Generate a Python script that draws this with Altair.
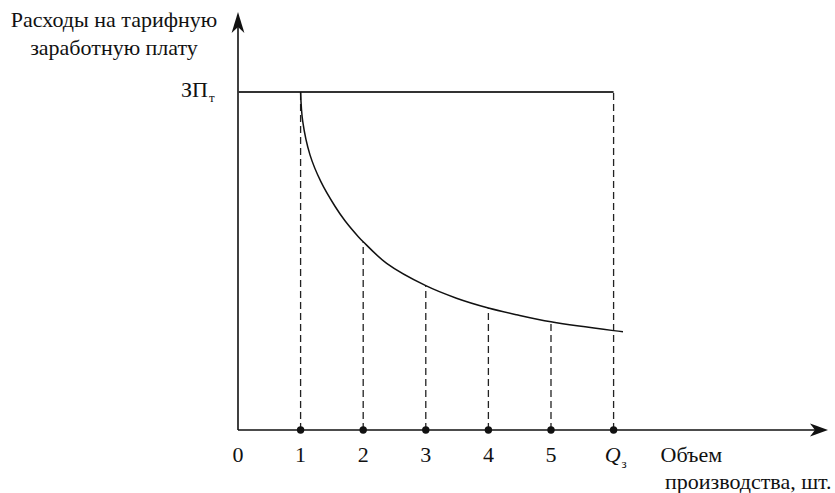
import altair as alt
import pandas as pd

# Volume of production (units) and the tariff wage cost per unit
curve_x = [1.0, 1.034, 1.150, 1.326, 1.549, 1.709, 1.922, 2.0,
           2.375, 3.0, 3.49, 4.0, 4.45, 5.0, 6.0, 6.15]
curve_y = [100.0, 91.3, 81.4, 73.4, 66.2, 61.9, 57.2, 55.7,
           49.3, 42.7, 39.0, 36.1, 34.1, 32.0, 29.4, 29.1]

# Points marked on the volume axis and the height of each dashed guide
mark_x = [1, 2, 3, 4, 5, 6]
guide_top = [100.0, 55.7, 42.7, 36.1, 32.0, 100.0]
tick_labels = ["1", "2", "3", "4", "5"]

wage_level = 100.0      # ЗПт
q_plan = 6              # Qз
x_end = 9.425           # arrow tip of the volume axis
y_end = 123.67          # arrow tip of the cost axis

# Arrowhead outlines (two halves each, so the back of the head is notched)
arrow_x_x = [9.1375, 9.2173, 9.425]
arrow_x_out = [1.92, 1.39, 0.0]
arrow_x_in = [1.92, 0.0, 0.0]
arrow_y_y = [117.46, 119.23, 123.67]
arrow_y_out = [0.102, 0.073, 0.0]
arrow_y_in = [0.102, 0.0, 0.0]

FONT = "Liberation Serif, Times New Roman, serif"
FS = 22
SUB = 13

xs = alt.Scale(domain=[-3.802, 9.537], nice=False, zero=False)
ys = alt.Scale(domain=[-18.64, 127.22], nice=False, zero=False)
X = lambda f: alt.X(f, type="quantitative", scale=xs, axis=None)
Y = lambda f: alt.Y(f, type="quantitative", scale=ys, axis=None)
X0 = alt.X(datum=0, scale=xs, axis=None)
Y0 = alt.Y(datum=0, scale=ys, axis=None)

axes_df = pd.DataFrame({
    "x": [0, 0], "y": [0, 0],
    "x2": [x_end - 0.1, 0], "y2": [0, y_end - 3],
})
axes = alt.Chart(axes_df).mark_rule(color="#111", strokeWidth=1.6).encode(
    x=X("x"), y=Y("y"), x2="x2", y2="y2")

ax_df = pd.DataFrame({
    "x": arrow_x_x * 2,
    "y": arrow_x_in + [-v for v in arrow_x_in],
    "y2": arrow_x_out + [-v for v in arrow_x_out],
    "part": ["a"] * 3 + ["b"] * 3,
})
arrow_r = alt.Chart(ax_df).mark_area(color="#111", opacity=1, orient="vertical").encode(
    x=X("x"), y=Y("y"), y2="y2", detail="part:N")

ay_df = pd.DataFrame({
    "y": arrow_y_y * 2,
    "x": arrow_y_in + [-v for v in arrow_y_in],
    "x2": arrow_y_out + [-v for v in arrow_y_out],
    "part": ["a"] * 3 + ["b"] * 3,
})
arrow_u = alt.Chart(ay_df).mark_area(color="#111", opacity=1, orient="horizontal").encode(
    y=Y("y"), x=X("x"), x2="x2", detail="part:N")

top_line = alt.Chart(pd.DataFrame({"x": [0], "x2": [q_plan], "y": [wage_level]})).mark_rule(
    color="#333", strokeWidth=1.8).encode(x=X("x"), x2="x2", y=Y("y"))

guides = alt.Chart(pd.DataFrame({"x": mark_x, "y": [0] * len(mark_x), "y2": guide_top})).mark_rule(
    color="#222", strokeWidth=1.3, strokeDash=[7, 4]).encode(x=X("x"), y=Y("y"), y2="y2")

curve = alt.Chart(pd.DataFrame({"x": curve_x, "y": curve_y})).mark_line(
    color="#111", strokeWidth=1.5, interpolate="catmull-rom").encode(x=X("x"), y=Y("y"))

dots = alt.Chart(pd.DataFrame({"x": mark_x, "y": [0] * len(mark_x)})).mark_circle(
    color="#111", size=55, opacity=1).encode(x=X("x"), y=Y("y"))

tick_df = pd.DataFrame({"x": [0] + list(range(1, 6)), "t": ["0"] + tick_labels})
ticks = alt.Chart(tick_df).mark_text(
    font=FONT, fontSize=FS, color="#111", baseline="alphabetic", dy=32).encode(
    x=X("x"), y=Y0, text="t")

q_lbl = alt.Chart(pd.DataFrame({"x": [q_plan], "t": ["Q"]})).mark_text(
    font=FONT, fontSize=FS, fontStyle="italic", color="#111", baseline="alphabetic",
    dx=-1, dy=32).encode(x=X("x"), y=Y0, text="t")
q_sub = alt.Chart(pd.DataFrame({"x": [q_plan], "t": ["з"]})).mark_text(
    font=FONT, fontSize=SUB, color="#111", baseline="alphabetic", align="left",
    dx=8, dy=38).encode(x=X("x"), y=Y0, text="t")

x_title = alt.Chart(pd.DataFrame({"x": [q_plan], "t": ["Объем"]})).mark_text(
    font=FONT, fontSize=FS, color="#111", baseline="alphabetic", align="left",
    dx=47, dy=32).encode(x=X("x"), y=Y0, text="t")
x_title2 = alt.Chart(pd.DataFrame({"x": [q_plan], "t": ["производства, шт."]})).mark_text(
    font=FONT, fontSize=FS, color="#111", baseline="alphabetic", align="right",
    dx=218, dy=59).encode(x=X("x"), y=Y0, text="t")

wage_lbl = alt.Chart(pd.DataFrame({"y": [wage_level], "t": ["ЗП"]})).mark_text(
    font=FONT, fontSize=FS, color="#111", baseline="alphabetic", align="right",
    dx=-30, dy=5).encode(x=X0, y=Y("y"), text="t")
wage_sub = alt.Chart(pd.DataFrame({"y": [wage_level], "t": ["т"]})).mark_text(
    font=FONT, fontSize=SUB, color="#111", baseline="alphabetic", align="left",
    dx=-29, dy=10).encode(x=X0, y=Y("y"), text="t")

y_title = alt.Chart(pd.DataFrame({"y": [y_end], "t": [["Расходы на тарифную", "заработную плату"]]})).mark_text(
    font=FONT, fontSize=FS, color="#111", baseline="alphabetic", align="center",
    lineHeight=27.7, dx=-124, dy=15.3).encode(x=X0, y=Y("y"), text="t")

chart = alt.layer(
    axes, top_line, guides, curve, dots, arrow_r, arrow_u,
    ticks, q_lbl, q_sub, x_title, x_title2, wage_lbl, wage_sub, y_title,
).properties(
    width=835, height=493, padding=0,
    autosize=alt.AutoSizeParams(type="none"),
    background="white",
).configure_view(stroke=None)

chart.save("out.html", embed_options={"renderer": "svg", "actions": False})
